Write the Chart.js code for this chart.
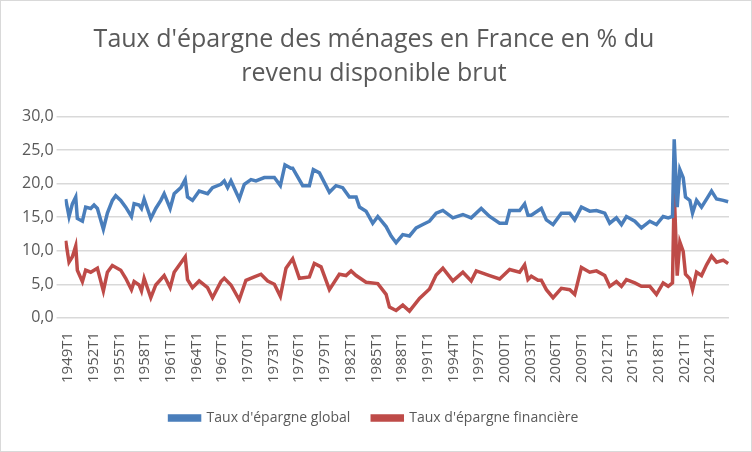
<!DOCTYPE html>
<html lang="fr">
<head>
  <meta charset="UTF-8">
  <title>Taux d'épargne des ménages</title>
  <script src="https://cdn.jsdelivr.net/npm/chart.js"></script>
  <style>
    body { margin: 0; background: #fff; }
    #wrap { width: 750px; height: 450px; border: 1px solid #d9d9d9; }
  </style>
</head>
<body>
  <div id="wrap"><canvas id="chart" width="750" height="450"></canvas></div>
  <script>
    // dates (années décimales) et valeurs
    const globalX = [1948.73,1949.12,1949.51,1949.90,1950.09,1950.68,1951.06,1951.65,1952.04,1952.43,1953.13,1953.60,1954.18,1954.57,1955.16,1955.74,1956.41,1956.72,1957.30,1957.58,1957.89,1958.67,1959.25,1959.84,1960.23,1960.93,1961.40,1962.18,1962.69,1962.96,1963.54,1964.32,1965.30,1965.88,1966.86,1967.25,1967.64,1968.03,1969.00,1969.59,1970.37,1970.95,1971.93,1973.10,1973.80,1974.34,1975.04,
      1975.24,1976.41,1977.19,1977.65,1978.36,1979.53,1980.30,1981.08,1981.86,1982.65,1983.04,1983.81,1984.59,1985.18,1986.15,1986.74,1987.32,1988.10,1988.88,1989.66,1990.44,1991.22,1992.00,1992.78,1993.95,1995.12,1996.09,1997.26,1998.24,1999.41,2000.19,2000.58,2001.75,2002.33,2002.72,
      2003.11,2004.28,2004.87,2005.65,2006.62,2007.60,2008.18,2008.96,2009.93,2010.72,2011.69,2012.27,2013.05,2013.64,2014.22,2015.20,2015.97,2016.95,2017.73,2018.51,2019.10,2019.60,2019.80,2020.15,2020.46,2020.85,2021.12,2021.63,2021.94,2022.41,2022.99,2023.58,2024.16,2024.75,2025.53,2026.10];
    const globalY = [17.7,15.1,17.0,18.0,14.8,14.4,16.5,16.3,16.8,16.3,13.2,15.6,17.5,18.2,17.5,16.5,15.1,17.0,16.8,16.3,17.7,14.8,16.3,17.5,18.5,16.3,18.5,19.4,20.6,18.0,17.5,18.9,18.5,19.4,19.9,20.4,19.4,20.4,17.7,19.9,20.6,20.4,20.9,20.9,19.7,22.8,22.3,
      22.3,19.7,19.7,22.1,21.6,18.7,19.7,19.4,18.0,18.0,16.5,15.9,14.1,15.1,13.6,12.2,11.2,12.4,12.2,13.4,13.9,14.4,15.6,16.0,14.9,15.4,14.9,16.3,15.1,14.1,14.1,16.0,16.0,17.0,15.3,
      15.3,16.3,14.6,13.9,15.6,15.6,14.6,16.5,15.9,16.0,15.6,14.1,14.9,13.9,15.1,14.4,13.4,14.4,13.9,15.1,14.9,15.1,26.6,16.5,22.1,20.9,18.0,17.5,15.6,17.5,16.5,17.7,18.9,17.7,17.5,17.3];
    const finX = [1948.73,1949.12,1949.51,1949.90,1950.09,1950.68,1951.06,1951.65,1952.43,1953.13,1953.60,1954.18,1955.16,1955.74,1956.41,1956.72,1957.30,1957.58,1957.89,1958.67,1959.25,1960.23,1960.93,1961.40,1962.69,1962.96,1963.54,1964.32,1965.30,1965.88,1966.86,1967.25,1968.03,1969.00,1969.78,1970.76,1971.54,1972.32,1973.10,1973.80,1974.46,1975.24,
      1976.02,1977.19,1977.77,1978.55,1979.53,1980.69,1981.47,1982.06,1982.65,1983.81,1985.18,1986.15,1986.54,1987.32,1988.10,1988.88,1990.05,1991.22,1992.00,1992.78,1993.95,1995.12,1996.09,1996.68,1998.24,1999.41,2000.58,2001.75,2002.33,2002.72,
      2003.11,2003.89,2004.28,2004.87,2005.65,2006.62,2007.60,2008.18,2008.96,2009.93,2010.72,2011.69,2012.27,2013.05,2013.64,2014.22,2015.20,2015.97,2016.95,2017.73,2018.51,2019.10,2019.60,2019.80,2020.15,2020.46,2020.85,2021.12,2021.63,2021.94,2022.41,2022.99,2023.58,2024.16,2024.75,2025.53,2026.10];
    const finY = [11.5,8.3,9.1,10.7,7.1,5.4,7.1,6.8,7.4,4.0,6.8,7.8,7.1,5.9,4.2,5.4,4.9,4.0,5.9,3.0,4.9,6.3,4.5,6.8,9.1,5.7,4.5,5.5,4.5,3.0,5.4,5.9,4.9,2.7,5.6,6.1,6.5,5.5,5.0,3.2,7.4,8.8,
      5.9,6.1,8.1,7.6,4.2,6.5,6.3,7.0,6.3,5.3,5.1,3.5,1.6,1.1,1.9,1.0,2.9,4.3,6.4,7.4,5.5,6.8,5.5,7.0,6.3,5.8,7.2,6.8,7.9,5.7,
      6.2,5.6,5.6,4.2,3.0,4.4,4.2,3.5,7.5,6.8,7.0,6.3,4.7,5.4,4.7,5.7,5.2,4.7,4.7,3.5,5.2,4.7,5.2,18.9,6.3,11.3,9.9,6.5,5.8,4.2,6.8,6.3,7.9,9.2,8.3,8.6,8.1];

    const tickYears = [];
    for (let y = 1949; y <= 2024; y += 3) tickYears.push(y);

    new Chart(document.getElementById('chart'), {
      type: 'line',
      data: {
        datasets: [
          { label: "Taux d'épargne global", data: globalX.map((x, i) => ({ x: x, y: globalY[i] })),
            borderColor: '#4a7ebb', backgroundColor: '#4a7ebb', borderWidth: 3.5, pointRadius: 0, tension: 0 },
          { label: "Taux d'épargne financière", data: finX.map((x, i) => ({ x: x, y: finY[i] })),
            borderColor: '#be4b48', backgroundColor: '#be4b48', borderWidth: 3.5, pointRadius: 0, tension: 0 }
        ]
      },
      options: {
        responsive: false,
        animation: false,
        layout: { padding: { left: 18, right: 22, top: 10, bottom: 16 } },
        plugins: {
          title: {
            display: true,
            text: ["Taux d'épargne des ménages en France en % du", 'revenu disponible brut'],
            color: '#595959',
            font: { family: 'Open Sans', size: 25, weight: 'normal', lineHeight: 1.35 },
            padding: { top: 12, bottom: 26 }
          },
          legend: {
            position: 'bottom',
            labels: {
              color: '#595959', boxWidth: 30, boxHeight: 4, padding: 22,
              font: { family: 'Open Sans', size: 14 }
            }
          },
          tooltip: { enabled: false }
        },
        scales: {
          x: {
            type: 'linear', min: 1948.6, max: 2026.2,
            afterBuildTicks: axis => { axis.ticks = tickYears.map(v => ({ value: v })); },
            ticks: { minRotation: 90, maxRotation: 90, color: '#595959', padding: 6, font: { family: 'Open Sans', size: 15 },
              callback: v => v + 'T1' },
            grid: { display: false },
            border: { display: false }
          },
          y: {
            min: 0, max: 30,
            ticks: { stepSize: 5, color: '#595959', font: { family: 'Open Sans', size: 16 },
              callback: v => v.toFixed(1).replace('.', ',') },
            grid: { color: '#d9d9d9', lineWidth: 1.5 },
            border: { display: false }
          }
        }
      }
    });
  </script>
</body>
</html>
